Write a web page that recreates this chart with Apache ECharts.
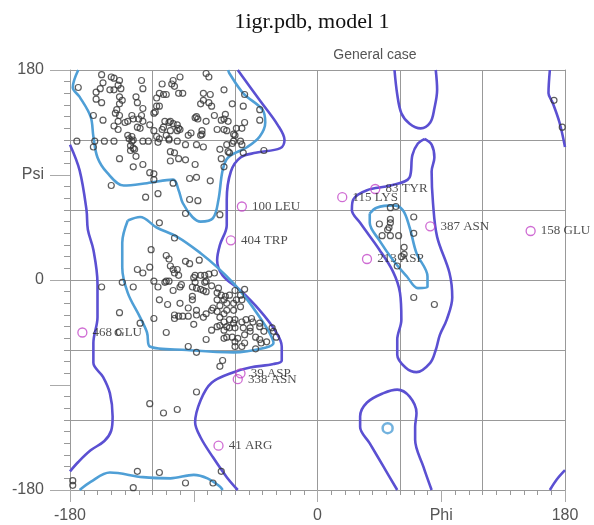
<!DOCTYPE html>
<html>
<head>
<meta charset="utf-8">
<script src="https://cdn.jsdelivr.net/npm/echarts@6/dist/echarts.min.js"></script>
<style>html,body{margin:0;padding:0;background:#fff}#c{width:594px;height:525px}</style>
</head>
<body>
<div id="c"></div>
<script>
// ---- axis tick labels ----
const phiLabels = {'-180':'-180','0':'0','90':'Phi','180':'180'};
const psiLabels = {'180':'180','90':'Psi','0':'0','-180':'-180'};

// ---- contours: allowed (outer) ----
const allowedRightSide = [[-58,180],[-42,154],[-29,133],[-24,120],[-27,113],[-45,109],[-56,105],[-63,93],[-66,69],[-66,47],[-71,30],[-73,17],[-69,4],[-56,-9],[-42,-26],[-31,-43],[-26,-57],[-26,-69],[-32,-72],[-49,-75],[-61,-79],[-77,-88],[-85,-103],[-89,-122],[-85,-135],[-76,-152],[-66,-169],[-58,-180]];
const allowedLeftSide = [[-180,116],[-173,94],[-168,60],[-167,43],[-163,26],[-160,-3],[-160,-32],[-163,-54],[-163,-71],[-156,-83],[-151,-97],[-149,-117],[-150,-129],[-155,-138],[-165,-146],[-174,-156],[-180,-164]];
const allowedTopRight = [[169,180],[168,160],[171,152],[176,135],[180,114]];
const allowedBottomRight = [[169,-180],[174,-171],[180,-163]];
const allowedLeftHanded = [[78,121],[83,116],[85,105],[83,93],[84,66],[87,37],[96,6],[98,-15],[94,-34],[89,-47],[86,-60],[82,-71],[72,-79],[64,-75],[58,-64],[58,-51],[61,-34],[60,-11],[55,7],[45,26],[31,49],[25,60],[26,69],[36,77],[53,81],[67,88],[69,107],[73,117],[78,121]];
const allowedTopLoop = [[56,180],[58,159],[61,143],[67,134],[75,130],[82,135],[85,147],[87,163],[86,180]];
const allowedBottomLoop = [[58,-180],[48,-160],[38,-140],[31,-126],[31,-117],[36,-105],[48,-97],[58,-94],[67,-100],[72,-114],[71,-126],[71,-137],[77,-160],[83,-180]];

// ---- contours: favoured (inner) ----
const favouredBetaTop = [[-174,180],[-178,165],[-173,157],[-165,140],[-163,123],[-160,105],[-153,92],[-141,81],[-124,83],[-105,86],[-101,77],[-98,66],[-91,54],[-85,50],[-76,53],[-72,69],[-69,94],[-65,105],[-51,114],[-42,123],[-38,135],[-40,146],[-54,160],[-64,177],[-65,180]];
const favouredBetaBottom = [[-173,-180],[-165,-173],[-151,-165],[-127,-169],[-107,-170],[-90,-167],[-80,-170],[-71,-177],[-69,-180]];
const favouredAlpha = [[-138,51],[-129,54],[-117,45],[-102,37],[-85,23],[-73,11],[-61,-3],[-51,-17],[-42,-32],[-35,-45],[-32,-54],[-38,-58],[-61,-62],[-95,-60],[-122,-57],[-124,-45],[-129,-32],[-138,-11],[-142,11],[-142,32],[-138,51]];
const favouredLeftHanded = [[38,57],[43,62],[55,64],[62,60],[67,45],[72,23],[80,3],[80,-6],[73,-7],[65,3],[55,17],[45,34],[38,49],[38,57]];
const favouredIsland = [[51,-127]];

// ---- residues (phi, psi) ----
const betaResidues = [[-157,176],[-150,174],[-148,173],[-144,171],[-128,171],[-105,171],[-100,174],[-81,177],[-79,174],
[-174,165],[-156,169],[-145,167],[-151,163],[-148,163],[-143,164],[-127,164],[-113,168],[-106,168],[-104,166],
[-161,161],[-158,164],[-115,160],[-112,159],[-110,159],[-101,160],[-98,160],[-83,160],[-78,159],[-68,163],
[-161,155],[-157,152],[-144,157],[-142,154],[-144,151],[-132,157],[-131,152],[-117,156],[-117,149],[-85,151],[-83,154],[-79,152],[-77,149],[-62,151],[-54,149],[-53,159],
[-146,146],[-147,143],[-127,147],[-128,141],[-135,141],[-144,141],[-119,143],[-118,144],[-115,149],[-42,146],
[-163,141],[-156,137],[-145,136],[-134,138],[-130,138],[-140,135],[-138,136],[-127,136],[-88,140],[-87,138],[-89,139],[-81,136],[-75,141],[-70,137],[-68,138],[-65,136],[-67,142],[-42,137],[-53,135],
[-148,132],[-145,129],[-131,131],[-129,130],[-122,133],[-111,136],[-108,135],[-107,136],[-105,134],[-102,133],[-101,130],[-100,129],[-102,128],[-107,128],[-112,131],[-113,129],[-119,128],[-73,129],[-68,129],[-66,128],[-59,130],[-55,130],[-84,128],[-84,125],[-61,125],[-60,124],
[-138,124],[-135,123],[-137,121],[-134,120],[-117,123],[-115,121],[-110,124],[-108,121],[-94,124],[-92,126],[-85,124],
[-175,119],[-162,119],[-155,119],[-148,119],[-135,119],[-127,119],[-123,119],[-116,118],[-108,120],[-102,119],[-96,116],[-88,116],[-83,114],[-66,116],[-62,117],[-61,119],[-56,119],[-55,116],
[-163,114],[-136,115],[-134,113],[-133,112],[-136,111],[-107,110],[-104,109],[-71,112],[-65,110],[-64,109],[-54,109],[-39,111],
[-144,104],[-132,106],[-107,102],[-101,104],[-96,103],[-70,104],[-68,97],[-89,99],[-127,99],[-134,97],
[-122,92],[-119,91],[-93,87],[-88,88],[-78,85],[-119,86],[-150,81],[-105,83],
[-125,71],[-116,74],[-93,69],[-87,68],[-96,57],[-71,56],[-115,49],
[172,154],[178,131]];
const alphaResidues = [[-104,36],[-121,26],[-110,21],[-108,18],[-96,16],[-93,14],[-86,17],[-131,9],[-127,6],[-122,11],[-107,12],[-105,9],[-102,9],[-104,6],[-101,4],[-89,4],[-85,4],[-82,4],[-79,5],[-75,6],[-90,2],[-82,-2],[-142,-2],[-119,-1],[-110,-1],[-108,-1],[-111,-2],[-89,-2],[-81,-1],
[-100,-6],[-99,-4],[-91,-6],[-88,-7],[-83,-9],[-77,-5],[-72,-7],[-60,-9],[-53,-8],[-157,-6],[-134,-6],[-116,-6],[-105,-9],[-85,-8],[-81,-10],[-73,-11],[-70,-13],[-67,-14],[-64,-13],[-56,-13],[-55,-17],[-59,-17],[-115,-17],[-91,-14],[-91,-17],[-73,-17],[-68,-17],[-66,-20],[-61,-20],[-71,-22],[-76,-24],[-109,-21],[-100,-20],[-94,-24],[-88,-26],[-56,-23],[-61,-26],[-66,-26],[-68,-29],[-73,-27],[-77,-26],[-81,-29],[-83,-32],[-88,-30],[-104,-30],[-101,-31],[-98,-31],[-94,-31],[-104,-33],[-144,-28],[-129,-37],[-119,-33],
[-71,-32],[-68,-36],[-64,-34],[-60,-34],[-55,-36],[-52,-34],[-48,-33],[-47,-36],[-42,-37],[-61,-37],[-66,-40],[-71,-39],[-73,-40],[-77,-43],[-68,-43],[-64,-41],[-60,-41],[-54,-41],[-49,-41],[-42,-40],[-39,-44],[-33,-41],[-32,-44],[-30,-49],[-37,-53],[-42,-51],[-45,-49],[-49,-44],[-53,-47],[-58,-50],[-62,-49],[-66,-49],[-68,-50],[-60,-53],[-60,-57],[-53,-54],[-55,-57],[-45,-59],[-41,-54],
[-90,-38],[-110,-45],[-81,-51],[-94,-57],[-88,-62],[-69,-69],[-71,-74],[-145,-45]];
const leftHandedResidues = [[53,62],[57,63],[53,52],[53,49],[45,48],[51,43],[52,45],[47,38],[53,38],[59,38],[70,54],[70,40],[63,28],[63,22],[61,20],[58,12],[70,-15],[85,-21]];
const otherResidues = [[-88,-96],[-122,-106],[-112,-114],[-102,-111],[-70,-164],[-131,-164],[-115,-165],[-96,-174],[-76,-174],[-134,-178],[-178,-172],[-178,-176]];

// ---- outliers ----
const outlierNames = ['100 LEU','404 TRP','468 GLU','39 ASP','338 ASN','41 ARG','115 LYS','83 TYR','213 ASP','387 ASN','158 GLU'];
const outlierPhi = [-55,-63,-171,-56,-58,-72,18,42,36,82,155];
const outlierPsi = [63,34,-45,-80,-85,-142,71,78,18,46,42];

const PURPLE = '#5b50d2', LIGHT = '#4f9fd6';
function contour(data, color) {
  return {type:'line', data:data, smooth:0.35, showSymbol:false, silent:true,
    lineStyle:{color:color, width:2.6}, z:2};
}
const series = [];
[allowedRightSide, allowedLeftSide, allowedTopRight, allowedBottomRight, allowedLeftHanded, allowedTopLoop, allowedBottomLoop]
  .forEach(d => series.push(contour(d, PURPLE)));
[favouredBetaTop, favouredBetaBottom, favouredAlpha, favouredLeftHanded]
  .forEach(d => series.push(contour(d, LIGHT)));
series.push({type:'scatter', data:favouredIsland, symbol:'circle', symbolSize:10,
  itemStyle:{color:'transparent', borderColor:LIGHT, borderWidth:2.5}, z:3});
series.push({type:'scatter', data:[].concat(betaResidues, alphaResidues, leftHandedResidues, otherResidues),
  symbol:'circle', symbolSize:6, itemStyle:{color:'transparent', borderColor:'#333', borderWidth:1.2}, z:4});
series.push({type:'scatter', symbol:'circle', symbolSize:9,
  data: outlierNames.map((n,i)=>({name:n, value:[outlierPhi[i], outlierPsi[i]]})),
  itemStyle:{color:'transparent', borderColor:'#c347c8', borderWidth:1.3},
  label:{show:true, position:'right', distance:5, formatter:'{b}', fontFamily:'Liberation Serif', fontSize:13, color:'#222'},
  labelLayout:{hideOverlap:false}, z:5});

const chart = echarts.init(document.getElementById('c'), null, {renderer:'canvas'});
chart.setOption({
  animation:false,
  backgroundColor:'#fff',
  title:[
    {text:'1igr.pdb, model 1', left:307, top:6, textAlign:'center',
     textStyle:{fontFamily:'Liberation Serif', fontSize:22, fontWeight:'normal', color:'#111'}},
    {text:'General case', left:370, top:43, textAlign:'center',
     textStyle:{fontFamily:'Liberation Sans', fontSize:14, fontWeight:'normal', color:'#555'}}
  ],
  grid:{left:70, right:29, top:70, bottom:35},
  xAxis:[
    {type:'value', min:-180, max:180, interval:90, position:'bottom',
     axisLine:{show:true, onZero:false, lineStyle:{color:'#999', width:1}},
     axisTick:{show:true, length:12, lineStyle:{color:'#aaa'}},
     minorTick:{show:true, splitNumber:9, length:5, lineStyle:{color:'#999'}},
     axisLabel:{margin:18, fontFamily:'Liberation Sans', fontSize:16, color:'#555',
       formatter:v => phiLabels[String(v)] || ''},
     splitLine:{show:false}},
    {type:'value', min:-180, max:180, interval:60, position:'top',
     axisLine:{show:true, onZero:false, lineStyle:{color:'#999', width:1}},
     axisTick:{show:false}, axisLabel:{show:false},
     splitLine:{show:true, lineStyle:{color:'#999', width:1}}}
  ],
  yAxis:[
    {type:'value', min:-180, max:180, interval:90, position:'left',
     axisLine:{show:true, onZero:false, lineStyle:{color:'#999', width:1}},
     axisTick:{show:true, length:20, lineStyle:{color:'#aaa'}},
     minorTick:{show:true, splitNumber:9, length:6, lineStyle:{color:'#999'}},
     axisLabel:{margin:26, fontFamily:'Liberation Sans', fontSize:16, color:'#555',
       formatter:v => psiLabels[String(v)] || ''},
     splitLine:{show:false}},
    {type:'value', min:-180, max:180, interval:60, position:'right',
     axisLine:{show:true, onZero:false, lineStyle:{color:'#999', width:1}},
     axisTick:{show:false}, axisLabel:{show:false},
     splitLine:{show:true, lineStyle:{color:'#999', width:1}}}
  ],
  series: series
});
</script>
</body>
</html>
